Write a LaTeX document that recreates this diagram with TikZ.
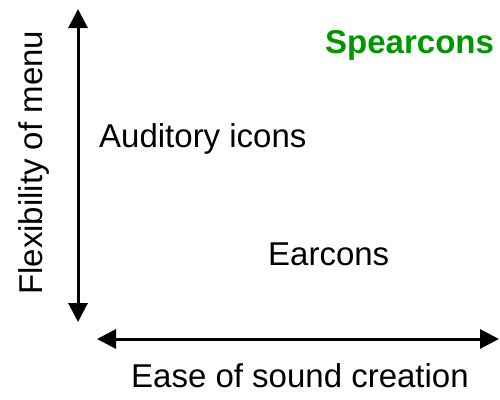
\documentclass[tikz,border=0pt]{standalone}
\usepackage{fontspec}
\setmainfont{Liberation Sans}
\usetikzlibrary{arrows.meta}
\definecolor{spgreen}{RGB}{0,150,0}
\begin{document}
\begin{tikzpicture}[x=1pt,y=-1pt,
  lbl/.style={inner sep=0pt,anchor=base west,font=\fontsize{33}{40}\selectfont},
  axis/.style={line width=3pt,{Triangle[length=19pt,width=19pt]}-{Triangle[length=19pt,width=19pt]}}]
\useasboundingbox (0,0) rectangle (500,399);
\coordinate (vtop) at (78,9);
\coordinate (vbot) at (78,322);
\coordinate (hl) at (97,339);
\coordinate (hr) at (499,339);
\draw[axis] (vbot) -- (vtop);
\draw[axis] (hl) -- (hr);
\node[lbl] (aud) at (99,147) {Auditory icons};
\node[lbl] (ear) at (268,265) {Earcons};
\node[lbl,font=\fontsize{33}{40}\selectfont\bfseries,text=spgreen] (spe) at (325,53) {Spearcons};
\node[lbl] (xl) at (131,387) {Ease of sound creation};
\node[lbl,rotate=90] (yl) at (42,295) {Flexibility of menu};
\end{tikzpicture}
\end{document}
